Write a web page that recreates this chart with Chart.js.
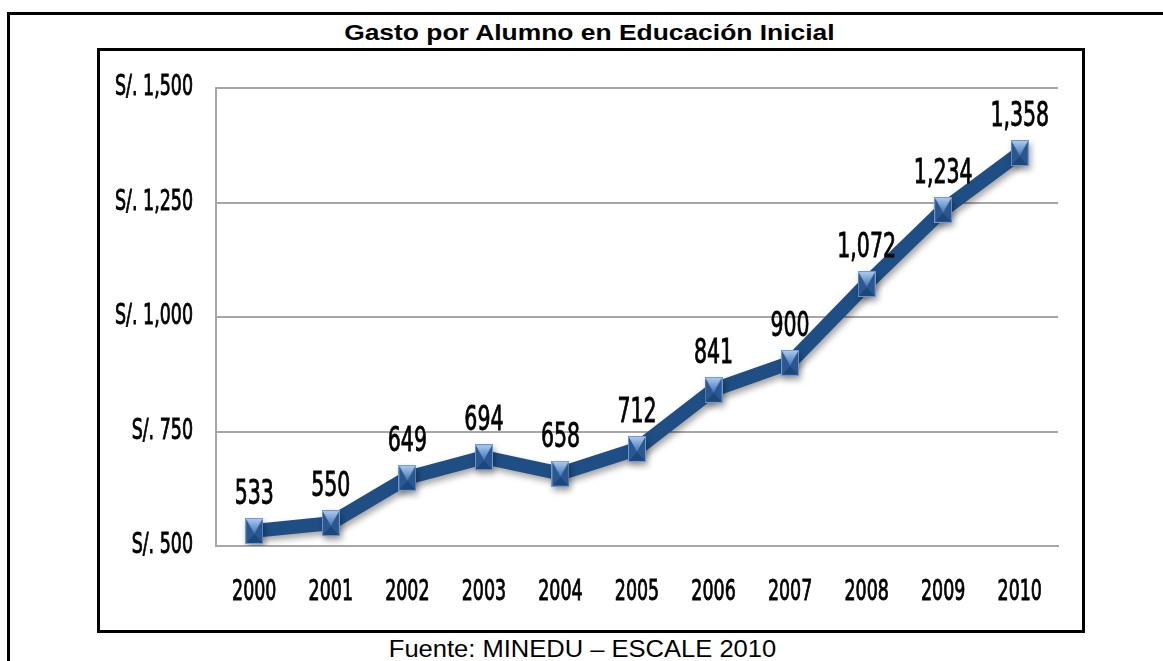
<!DOCTYPE html>
<html>
<head>
<meta charset="utf-8">
<script src="https://cdn.jsdelivr.net/npm/chart.js@4.4.1/dist/chart.umd.min.js"></script>
<style>
  body { margin: 0; background: #fff; width: 1163px; height: 661px; overflow: hidden; position: relative; }
  #marco { position: absolute; left: 7px; top: 12px; width: 1200px; height: 700px; border-left: 3px solid #000; border-top: 3px solid #000; }
  #titulo { position: absolute; left: 0; top: 20px; width: 1178px; text-align: center; font: bold 22px 'Liberation Sans', Arial, sans-serif; color: #000; }
  #titulo span { display: inline-block; transform: scaleX(1.2); transform-origin: center; }
  #caja { position: absolute; left: 97px; top: 48px; width: 988px; height: 585px; box-sizing: border-box; border: 3px solid #000; }
  #myChart { position: absolute; left: 100px; top: 51px; }
  #fuente { position: absolute; left: 0; top: 636px; width: 1164px; text-align: center; font: 23px 'Liberation Sans', Arial, sans-serif; color: #000; }
  #fuente span { display: inline-block; transform: scaleX(1.11); transform-origin: center; }
</style>
</head>
<body>
<div id="marco"></div>
<div id="titulo"><span>Gasto por Alumno en Educación Inicial</span></div>
<div id="caja"></div>
<canvas id="myChart" width="982" height="579"></canvas>
<div id="fuente"><span>Fuente: MINEDU – ESCALE 2010</span></div>
<script>
var years = ['2000', '2001', '2002', '2003', '2004', '2005', '2006', '2007', '2008', '2009', '2010'];
var gasto = [533, 550, 649, 694, 658, 712, 841, 900, 1072, 1234, 1358];
var yTicks = [500, 750, 1000, 1250, 1500];

var narrowFont = "'DejaVu Sans Condensed', 'DejaVu Sans', sans-serif";

function miles(v) {
    return String(v).replace(/\B(?=(\d{3})+(?!\d))/g, ',');
}

// tall narrow text, like the labels of the original spreadsheet chart
function tallText(ctx, text, x, y, size, sx, sy, align, baseline) {
    ctx.save();
    ctx.font = size + 'px ' + narrowFont;
    ctx.fillStyle = '#000';
    ctx.strokeStyle = '#000';
    ctx.lineWidth = 0.6;
    ctx.textAlign = align;
    ctx.textBaseline = baseline;
    ctx.translate(x, y);
    ctx.scale(sx, sy);
    ctx.fillText(text, 0, 0);
    ctx.strokeText(text, 0, 0);
    ctx.restore();
}

// bevelled square marker
function makeMarker() {
    var w = 18, h = 26;
    var c = document.createElement('canvas');
    c.width = w; c.height = h;
    var g = c.getContext('2d');
    var cx = w / 2, cy = h / 2;
    g.fillStyle = '#2f5f9c';
    g.fillRect(0, 0, w, h);
    var top = g.createLinearGradient(0, 0, 0, cy);
    top.addColorStop(0, '#b3cff0');
    top.addColorStop(1, '#5584c2');
    g.fillStyle = top;
    g.beginPath(); g.moveTo(0, 0); g.lineTo(w, 0); g.lineTo(cx, cy + 3); g.closePath(); g.fill();
    g.fillStyle = '#1d467c';
    g.beginPath(); g.moveTo(0, h); g.lineTo(w, h); g.lineTo(cx, cy + 3); g.closePath(); g.fill();
    g.fillStyle = '#2a5790';
    g.beginPath(); g.moveTo(0, 0); g.lineTo(0, h); g.lineTo(cx, cy + 3); g.closePath(); g.fill();
    g.beginPath(); g.moveTo(w, 0); g.lineTo(w, h); g.lineTo(cx, cy + 3); g.closePath(); g.fill();
    g.strokeStyle = '#6f98cc';
    g.lineWidth = 1;
    g.strokeRect(0.5, 0.5, w - 1, h - 1);
    return c;
}

var sombra = {
    id: 'sombra',
    beforeDatasetDraw: function(chart) {
        var ctx = chart.ctx;
        ctx.save();
        ctx.shadowColor = 'rgba(0,0,0,0.35)';
        ctx.shadowBlur = 6;
        ctx.shadowOffsetX = 2;
        ctx.shadowOffsetY = 4;
    },
    afterDatasetDraw: function(chart) {
        chart.ctx.restore();
    }
};

var etiquetas = {
    id: 'etiquetas',
    afterDraw: function(chart) {
        var ctx = chart.ctx;
        var ys = chart.scales.y, xs = chart.scales.x;
        // y axis labels
        ys.ticks.forEach(function(t) {
            tallText(ctx, 'S/. ' + miles(t.value), chart.chartArea.left - 23, ys.getPixelForValue(t.value), 20, 0.97, 1.42, 'right', 'middle');
        });
        // years
        years.forEach(function(yr, i) {
            tallText(ctx, yr, xs.getPixelForValue(i), chart.chartArea.bottom + 47, 20, 0.97, 1.42, 'center', 'middle');
        });
        // values above each point
        var meta = chart.getDatasetMeta(0);
        meta.data.forEach(function(pt, i) {
            tallText(ctx, miles(gasto[i]), pt.x, pt.y - 27, 24, 0.95, 1.42, 'center', 'alphabetic');
        });
    }
};

var ctx = document.getElementById('myChart').getContext('2d');
var chart = new Chart(ctx, {
    type: 'line',
    data: {
        labels: years,
        datasets: [{
            label: 'Gasto por alumno',
            data: gasto,
            borderColor: '#1f4e85',
            borderWidth: 14,
            tension: 0,
            pointStyle: makeMarker(),
            pointRadius: 10
        }]
    },
    options: {
        responsive: false,
        animation: false,
        events: [],
        layout: { padding: { top: 37, right: 24, left: 0, bottom: 0 } },
        plugins: { legend: { display: false }, tooltip: { enabled: false } },
        scales: {
            x: {
                offset: true,
                grid: { display: false },
                border: { display: true, color: '#a6a6a6', width: 2 },
                ticks: { display: false },
                afterFit: function(s) { s.height = 84; }
            },
            y: {
                min: 500,
                max: 1500,
                afterBuildTicks: function(s) { s.ticks = yTicks.map(function(v) { return { value: v }; }); },
                grid: { color: '#a6a6a6', lineWidth: 2, drawTicks: false },
                border: { display: true, color: '#a6a6a6', width: 2 },
                ticks: { display: false },
                afterFit: function(s) { s.width = 116; }
            }
        }
    },
    plugins: [sombra, etiquetas]
});
</script>
</body>
</html>
